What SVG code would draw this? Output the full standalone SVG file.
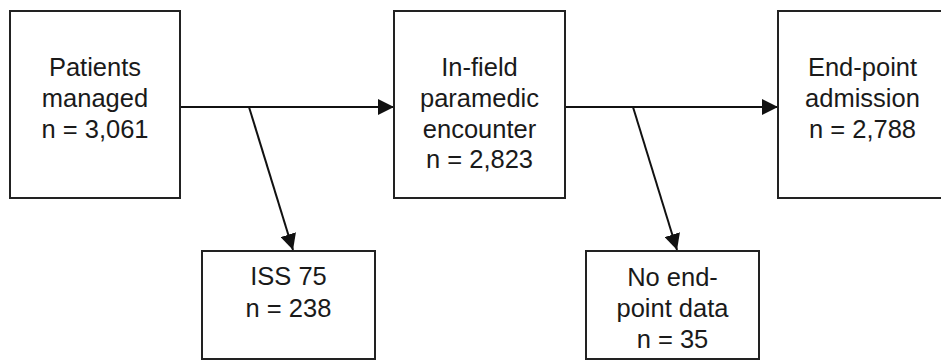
<svg xmlns="http://www.w3.org/2000/svg" width="941" height="361" viewBox="0 0 941 361">
  <defs>
    <marker id="arrow" markerUnits="userSpaceOnUse" markerWidth="16" markerHeight="16" refX="16" refY="8" orient="auto">
      <path d="M0,0 L16,8 L0,16 z" fill="#111"/>
    </marker>
    <style>
      .box { fill: #fff; stroke: #222; stroke-width: 2; }
      .lbl { font-family: "Liberation Sans", Arial, sans-serif; font-size: 25.5px; fill: #1a1a1a; text-anchor: middle; }
      .conn { stroke: #111; stroke-width: 2; fill: none; }
    </style>
  </defs>
  <rect width="941" height="361" fill="#fff"/>

  <g id="connectors">
    <line class="conn" x1="180" y1="107" x2="394" y2="107" marker-end="url(#arrow)"/>
    <line class="conn" x1="249" y1="107" x2="293" y2="250" marker-end="url(#arrow)"/>
    <line class="conn" x1="565" y1="107" x2="778" y2="107" marker-end="url(#arrow)"/>
    <line class="conn" x1="633" y1="107" x2="677" y2="250" marker-end="url(#arrow)"/>
  </g>

  <g id="patients-managed">
    <rect class="box" x="10" y="11" width="170" height="187"/>
    <text class="lbl" x="95" y="76">Patients</text>
    <text class="lbl" x="95" y="107">managed</text>
    <text class="lbl" x="95" y="138">n = 3,061</text>
  </g>

  <g id="paramedic-encounter">
    <rect class="box" x="394" y="11" width="171" height="187"/>
    <text class="lbl" x="479.5" y="76">In-field</text>
    <text class="lbl" x="479.5" y="107">paramedic</text>
    <text class="lbl" x="479.5" y="138">encounter</text>
    <text class="lbl" x="479.5" y="168">n = 2,823</text>
  </g>

  <g id="endpoint-admission">
    <rect class="box" x="778" y="11" width="171" height="187"/>
    <text class="lbl" x="862.5" y="76">End-point</text>
    <text class="lbl" x="862.5" y="107">admission</text>
    <text class="lbl" x="862.5" y="138">n = 2,788</text>
  </g>

  <g id="iss">
    <rect class="box" x="202" y="251" width="173" height="108"/>
    <text class="lbl" x="288.5" y="285">ISS 75</text>
    <text class="lbl" x="288.5" y="317">n = 238</text>
  </g>

  <g id="no-endpoint-data">
    <rect class="box" x="586" y="251" width="173" height="108"/>
    <text class="lbl" x="672.5" y="286">No end-</text>
    <text class="lbl" x="672.5" y="317">point data</text>
    <text class="lbl" x="672.5" y="348">n = 35</text>
  </g>
</svg>
